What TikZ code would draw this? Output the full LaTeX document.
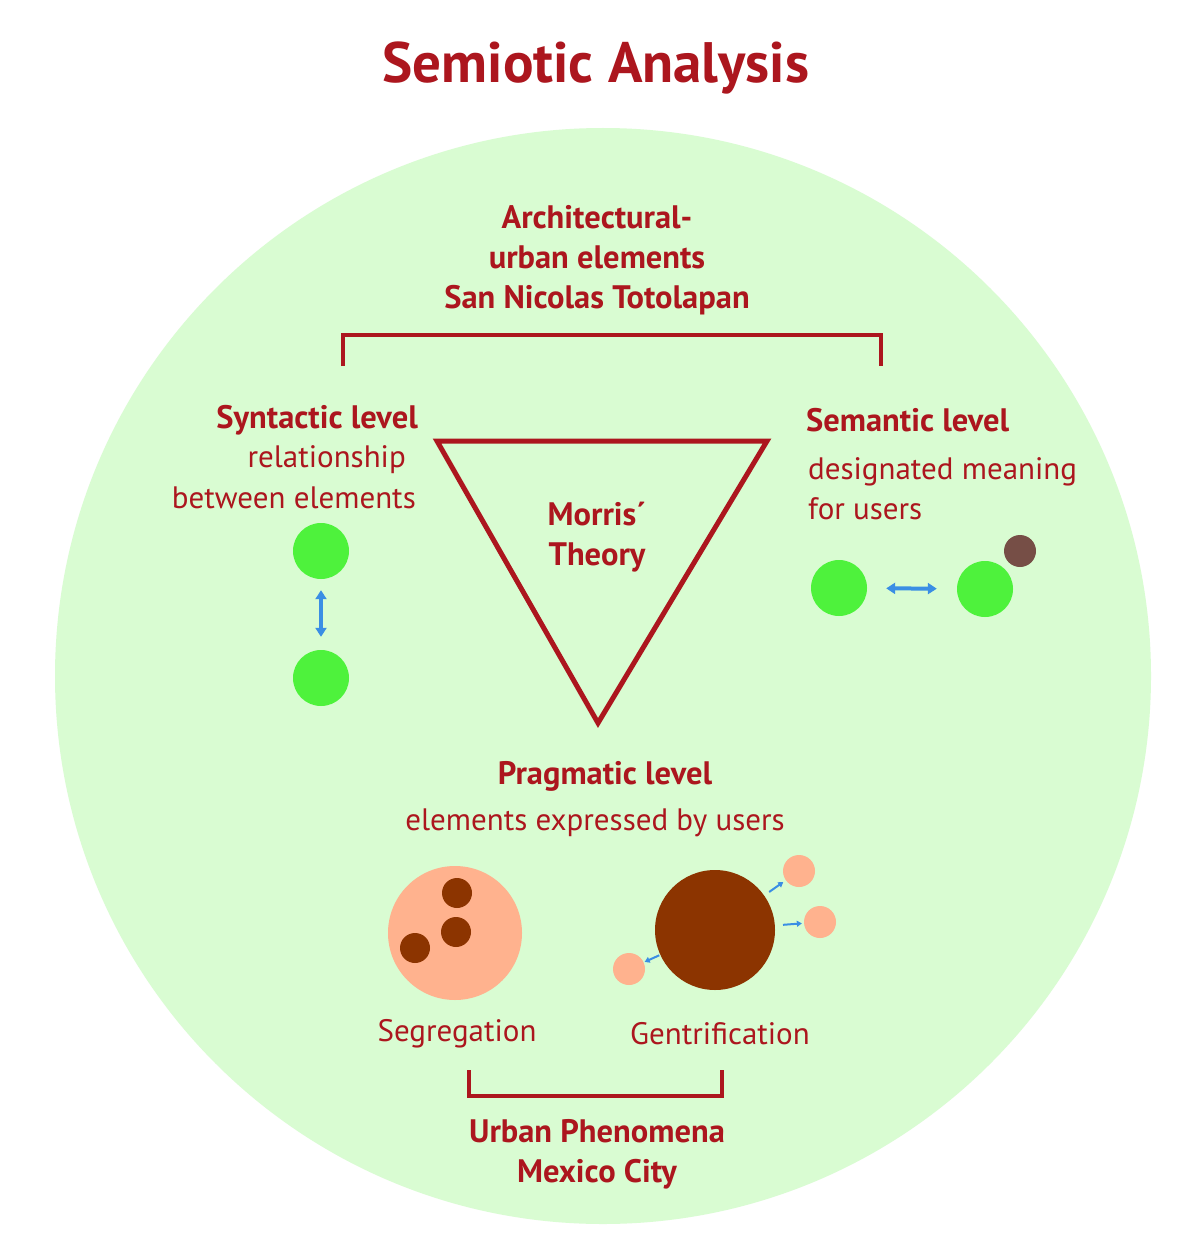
\documentclass[tikz,border=0pt]{standalone}
\usepackage{fontspec}
\setmainfont{PT Sans}
\usetikzlibrary{arrows.meta}
\definecolor{bgcircle}{RGB}{217,252,210}
\definecolor{darkred}{RGB}{172,22,30}
\definecolor{brightgreen}{RGB}{78,242,60}
\definecolor{arrowblue}{RGB}{58,142,228}
\definecolor{salmon}{RGB}{255,178,142}
\definecolor{rust}{RGB}{140,52,0}
\definecolor{greybrown}{RGB}{118,78,70}
\begin{document}
\begin{tikzpicture}[x=1pt,y=-1pt,
  lbl/.style={text=darkred, inner sep=0pt, font=\fontsize{31}{40}\selectfont},
  blbl/.style={text=darkred, inner sep=0pt, font=\fontsize{32.5}{40}\selectfont\bfseries},
  dot/.style={circle, inner sep=0pt, minimum size=#1},
  redline/.style={draw=darkred, line width=4pt},
  barrow/.style={draw=arrowblue, line width=4pt, {Triangle[length=9pt,width=11pt]}-{Triangle[length=9pt,width=11pt]}},
  sarrow/.style={draw=arrowblue, line width=2pt, -{Triangle[length=5pt,width=6pt]}}
]
\useasboundingbox (0,0) rectangle (1192,1260);
\fill[white] (0,0) rectangle (1192,1260);
\fill[bgcircle] (603,676) circle[radius=548pt];

\node[text=darkred, inner sep=0pt, font=\fontsize{57}{60}\selectfont\bfseries] (title) at (596,68) {Semiotic Analysis};

\node[blbl, align=center] (arch) at (597,260) {Architectural-\\urban elements\\San Nicolas Totolapan};
\draw[redline] (343,366) -- (343,335) -- (881,335) -- (881,366);

\node[blbl, anchor=east] (syn) at (418,420) {Syntactic level};
\node[lbl, anchor=east] (syn1) at (406,460) {relationship};
\node[lbl, anchor=east] (syn2) at (416,498) {between elements};

\draw[draw=darkred, line width=5pt, line join=miter] (437,441) -- (767,441) -- (598,723) -- cycle;
\node[blbl, align=center] (morris) at (597,537) {Morris´\\Theory};

\node[blbl, anchor=west] (sem) at (806,420) {Semantic level};
\node[lbl, anchor=west, align=left] (sem1) at (808,489) {designated meaning\\for users};

\node[dot=56pt, fill=brightgreen] (g1) at (321,551) {};
\node[dot=56pt, fill=brightgreen] (g2) at (321,678) {};
\draw[barrow, shorten <=11pt, shorten >=13pt] (g1) -- (g2);

\node[dot=56pt, fill=brightgreen] (g3) at (839,588) {};
\node[dot=56pt, fill=brightgreen] (g4) at (985,589) {};
\node[dot=32pt, fill=greybrown] (b1) at (1020,551) {};
\draw[barrow, shorten <=19pt, shorten >=20pt] (g3) -- (g4);

\node[blbl] (prag) at (605,776) {Pragmatic level};
\node[lbl] (prag1) at (595,823) {elements expressed by users};

\node[dot=134pt, fill=salmon] (seg) at (455,933) {};
\node[dot=30pt, fill=rust] (sd1) at (457,893) {};
\node[dot=30pt, fill=rust] (sd2) at (456,932) {};
\node[dot=30pt, fill=rust] (sd3) at (415,948) {};

\node[dot=120pt, fill=rust] (gen) at (715,930) {};
\node[dot=32pt, fill=salmon] (gs1) at (799,871) {};
\node[dot=32pt, fill=salmon] (gs2) at (820,922) {};
\node[dot=32pt, fill=salmon] (gs3) at (629,969) {};
\draw[sarrow, shorten <=6pt, shorten >=3pt] (gen) -- (gs1);
\draw[sarrow, shorten <=8pt, shorten >=2pt] (gen) -- (gs2);
\draw[sarrow, shorten <=1pt, shorten >=1pt] (gen) -- (gs3);

\node[lbl] (segl) at (457,1034) {Segregation};
\node[lbl] (genl) at (720,1034) {Gentrification};
\draw[redline] (469,1070) -- (469,1096) -- (722,1096) -- (722,1070);

\node[blbl, align=center] (urban) at (597,1154) {Urban Phenomena\\Mexico City};
\end{tikzpicture}
\end{document}
